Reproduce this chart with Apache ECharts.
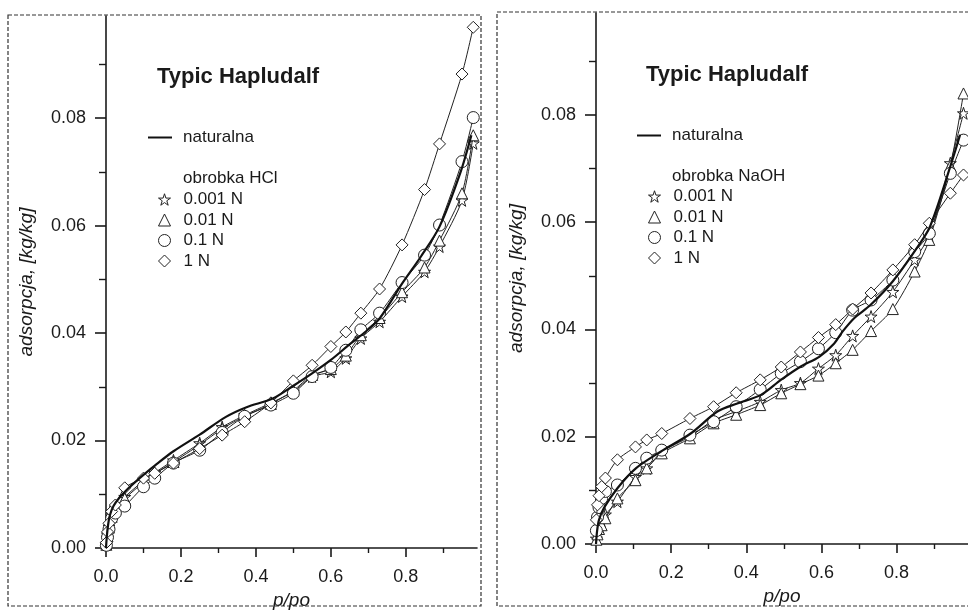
<!DOCTYPE html>
<html>
<head>
<meta charset="utf-8">
<script src="https://cdn.jsdelivr.net/npm/echarts@6.0.0/dist/echarts.min.js"></script>
<style>
  html, body { margin: 0; padding: 0; background: #fff; }
  #chart { width: 968px; height: 610px; }
</style>
</head>
<body>
<div id="chart"></div>
<script>
// ticks
const xTicksMajor = [0, 0.2, 0.4, 0.6, 0.8];
const xTicksMinor = [0.1, 0.3, 0.5, 0.7, 0.9];
const yTicksMajor = [0, 0.02, 0.04, 0.06, 0.08];
const yTicksMinor = [0.01, 0.03, 0.05, 0.07, 0.09];

const legendNames = ['0.001 N', '0.01 N', '0.1 N', '1 N'];

// lewy panel - obrobka HCl
const hclP = [0.001, 0.004, 0.008, 0.015, 0.025, 0.05, 0.1, 0.13, 0.18, 0.25, 0.31, 0.37, 0.44, 0.5, 0.55, 0.6, 0.64, 0.68, 0.73, 0.79, 0.85, 0.89, 0.95, 0.98];
const hcl0001 = [0.0008, 0.0025, 0.004, 0.006, 0.0075, 0.0095, 0.0125, 0.014, 0.0163, 0.0195, 0.0225, 0.0247, 0.027, 0.0291, 0.0319, 0.0328, 0.0353, 0.039, 0.0421, 0.0468, 0.0514, 0.0561, 0.0647, 0.0753];
const hcl001 = [0.0006, 0.0022, 0.0038, 0.0058, 0.0072, 0.0092, 0.0122, 0.0138, 0.016, 0.0192, 0.0222, 0.0245, 0.0268, 0.0293, 0.0322, 0.0333, 0.0358, 0.0396, 0.0428, 0.0476, 0.0522, 0.0572, 0.066, 0.0768];
const hcl01 = [0.0005, 0.002, 0.0035, 0.0055, 0.0065, 0.0078, 0.0114, 0.013, 0.0158, 0.0182, 0.0215, 0.0245, 0.0266, 0.0288, 0.0319, 0.0336, 0.0368, 0.0406, 0.0437, 0.0494, 0.0545, 0.0601, 0.0719, 0.0801];
const hcl1 = [0.001, 0.003, 0.0046, 0.0068, 0.008, 0.0112, 0.013, 0.0139, 0.0158, 0.0185, 0.021, 0.0235, 0.027, 0.0311, 0.034, 0.0375, 0.0402, 0.0437, 0.0482, 0.0564, 0.0667, 0.0752, 0.0882, 0.0969];
const hclNatP = [0, 0.002, 0.005, 0.01, 0.02, 0.035, 0.055, 0.08, 0.1, 0.135, 0.18, 0.25, 0.32, 0.375, 0.445, 0.5, 0.55, 0.6, 0.645, 0.69, 0.73, 0.79, 0.84, 0.89, 0.945, 0.975];
const hclNat = [0, 0.002, 0.004, 0.006, 0.0078, 0.0093, 0.0108, 0.0124, 0.0136, 0.0156, 0.018, 0.0211, 0.0244, 0.0262, 0.0278, 0.0302, 0.0325, 0.035, 0.0376, 0.0401, 0.0427, 0.0492, 0.0542, 0.0598, 0.0697, 0.0768];

// prawy panel - obrobka NaOH
const naohP = [0.001, 0.004, 0.008, 0.015, 0.025, 0.057, 0.105, 0.135, 0.175, 0.25, 0.313, 0.373, 0.437, 0.493, 0.544, 0.592, 0.638, 0.683, 0.732, 0.79, 0.848, 0.887, 0.943, 0.978];
const naoh0001 = [0.001, 0.0022, 0.0032, 0.0042, 0.0055, 0.0079, 0.0125, 0.0141, 0.0172, 0.02, 0.0231, 0.0247, 0.0265, 0.0287, 0.03, 0.0327, 0.0352, 0.0388, 0.0424, 0.047, 0.053, 0.0575, 0.071, 0.0803];
const naoh001 = [0.0008, 0.0018, 0.0028, 0.0035, 0.0048, 0.0085, 0.0119, 0.0141, 0.0169, 0.0197, 0.0225, 0.0241, 0.0259, 0.0281, 0.0298, 0.0314, 0.0337, 0.0362, 0.0397, 0.0438, 0.0508, 0.0567, 0.0705, 0.084];
const naoh01 = [0.0025, 0.005, 0.0068, 0.0085, 0.0098, 0.011, 0.0141, 0.016, 0.0175, 0.0203, 0.0228, 0.0256, 0.0288, 0.0318, 0.034, 0.0364, 0.0394, 0.0436, 0.0455, 0.0492, 0.0545, 0.0579, 0.0691, 0.0753];
const naoh1 = [0.0045, 0.0073, 0.009, 0.0107, 0.0123, 0.0157, 0.0181, 0.0194, 0.0206, 0.0234, 0.0256, 0.0282, 0.0306, 0.033, 0.0358, 0.0385, 0.0409, 0.0438, 0.0468, 0.0511, 0.0558, 0.0598, 0.0654, 0.0688];
const naohNatP = [0, 0.003, 0.008, 0.021, 0.057, 0.106, 0.172, 0.252, 0.323, 0.376, 0.439, 0.492, 0.545, 0.594, 0.634, 0.656, 0.687, 0.731, 0.79, 0.85, 0.889, 0.943, 0.969];
const naohNat = [0, 0.0025, 0.0045, 0.0067, 0.0104, 0.0141, 0.0172, 0.0206, 0.0247, 0.0262, 0.0278, 0.0306, 0.0331, 0.0349, 0.0374, 0.0396, 0.0421, 0.0446, 0.049, 0.0548, 0.0592, 0.0704, 0.0763];

const font = 'Liberation Sans, Arial, sans-serif';
const ink = '#1a1a1a';
const starPath = 'path://M50,2 L61,36 L97,36 L68,57 L79,92 L50,71 L21,92 L32,57 L3,36 L39,36 Z';
const symbols = [starPath, 'triangle', 'circle', 'diamond'];
const symSizes = [12, 11, 12, 12];

function zip(xs, ys) {
  return ys.map((y, i) => [xs[i], y]);
}

let myChart = echarts.init(document.getElementById('chart'));

function makeAxes(gi) {
  let xs = [
    {
      gridIndex: gi, type: 'value', min: 0, max: 0.99, position: 'bottom',
      axisLine: { show: true, onZero: false, lineStyle: { color: ink, width: 1.6 } },
      axisTick: { show: true, customValues: xTicksMajor, length: 9, lineStyle: { color: ink, width: 1.6 } },
      axisLabel: { customValues: xTicksMajor, margin: 20, color: ink, fontSize: 18, fontFamily: font,
        formatter: function (v) { return v.toFixed(1); } },
      splitLine: { show: false },
      name: 'p/po', nameLocation: 'middle', nameGap: 37,
      nameTextStyle: { color: ink, fontSize: 19, fontStyle: 'italic', fontFamily: font }
    },
    {
      gridIndex: gi, type: 'value', min: 0, max: 0.99, position: 'bottom',
      axisLine: { show: false, onZero: false },
      axisTick: { show: true, customValues: xTicksMinor, length: 5, lineStyle: { color: ink, width: 1.4 } },
      axisLabel: { show: false },
      splitLine: { show: false }
    }
  ];
  let ys = [
    {
      gridIndex: gi, type: 'value', min: 0, max: 0.099, position: 'left',
      axisLine: { show: true, onZero: false, lineStyle: { color: ink, width: 1.6 } },
      axisTick: { show: true, customValues: yTicksMajor, length: 11, lineStyle: { color: ink, width: 1.6 } },
      axisLabel: { customValues: yTicksMajor, margin: 20, color: ink, fontSize: 18, fontFamily: font,
        formatter: function (v) { return v.toFixed(2); } },
      splitLine: { show: false },
      name: 'adsorpcja, [kg/kg]', nameLocation: 'middle', nameRotate: 90, nameGap: 70,
      nameTextStyle: { color: ink, fontSize: 19, fontStyle: 'italic', fontFamily: font }
    },
    {
      gridIndex: gi, type: 'value', min: 0, max: 0.099, position: 'left',
      axisLine: { show: false, onZero: false },
      axisTick: { show: true, customValues: yTicksMinor, length: 7, lineStyle: { color: ink, width: 1.4 } },
      axisLabel: { show: false },
      splitLine: { show: false }
    }
  ];
  return { xs, ys };
}

const axL = makeAxes(0);
const axR = makeAxes(1);

function makeSeries(axisIdx, natP, nat, p, sets) {
  let out = [{
    name: 'naturalna', type: 'line', xAxisIndex: axisIdx, yAxisIndex: axisIdx,
    data: zip(natP, nat), symbol: 'none', smooth: 0.3, z: 5,
    lineStyle: { color: '#111', width: 2.2 }, itemStyle: { color: '#111' }
  }];
  sets.forEach((vals, i) => {
    out.push({
      name: legendNames[i], type: 'line', xAxisIndex: axisIdx, yAxisIndex: axisIdx,
      data: zip(p, vals), symbol: symbols[i], symbolSize: symSizes[i], smooth: 0.25,
      showSymbol: true, z: 3 + i * 0.1,
      lineStyle: { color: '#222', width: 1 },
      itemStyle: { color: '#fff', borderColor: '#222', borderWidth: 1 }
    });
  });
  return out;
}

let series = []
  .concat(makeSeries(0, hclNatP, hclNat, hclP, [hcl0001, hcl001, hcl01, hcl1]))
  .concat(makeSeries(2, naohNatP, naohNat, naohP, [naoh0001, naoh001, naoh01, naoh1]));

function lineLegend(left, top) {
  return {
    left: left, top: top, orient: 'vertical', selectedMode: false, padding: 0,
    data: [{ name: 'naturalna', icon: 'rect' }],
    itemWidth: 24, itemHeight: 2,
    itemStyle: { color: '#111', borderWidth: 0 },
    textStyle: { color: ink, fontSize: 17, fontFamily: font, lineHeight: 17, padding: [0, 0, 0, 6] }
  };
}
function symLegend(left, top) {
  return {
    left: left, top: top, orient: 'vertical', selectedMode: false, padding: 0,
    data: legendNames.map((n, i) => ({ name: n, icon: symbols[i] })),
    itemWidth: 12, itemHeight: 12, itemGap: 3.5,
    itemStyle: { color: '#fff', borderColor: '#222', borderWidth: 1 },
    textStyle: { color: ink, fontSize: 17, fontFamily: font, lineHeight: 17, padding: [0, 0, 0, 8] }
  };
}

let option = {
  backgroundColor: '#fff',
  animation: false,
  title: [
    { text: 'Typic Hapludalf', left: 157, top: 66, padding: 0,
      textStyle: { color: ink, fontSize: 22, fontWeight: 'bold', fontFamily: font } },
    { text: 'obrobka HCl', left: 183, top: 170, padding: 0,
      textStyle: { color: ink, fontSize: 17, fontWeight: 'normal', fontFamily: font } },
    { text: 'Typic Hapludalf', left: 646, top: 64, padding: 0,
      textStyle: { color: ink, fontSize: 22, fontWeight: 'bold', fontFamily: font } },
    { text: 'obrobka NaOH', left: 672, top: 168, padding: 0,
      textStyle: { color: ink, fontSize: 17, fontWeight: 'normal', fontFamily: font } }
  ],
  legend: [
    lineLegend(148, 129),
    symLegend(158, 191),
    lineLegend(637, 127),
    symLegend(648, 188)
  ],
  grid: [
    { left: 106, top: 16, width: 371, height: 532, containLabel: false, outerBoundsMode: 'none' },
    { left: 596, top: 13, width: 372, height: 531, containLabel: false, outerBoundsMode: 'none' }
  ],
  xAxis: axL.xs.concat(axR.xs),
  yAxis: axL.ys.concat(axR.ys),
  graphic: [
    { type: 'rect', shape: { x: 8, y: 15, width: 473, height: 591 }, silent: true, z: -1,
      style: { fill: null, stroke: '#333', lineWidth: 1.2, lineDash: [4, 2] } },
    { type: 'rect', shape: { x: 497, y: 12, width: 480, height: 594 }, silent: true, z: -1,
      style: { fill: null, stroke: '#333', lineWidth: 1.2, lineDash: [4, 2] } }
  ],
  series: series
};

myChart.setOption(option);
window.addEventListener('resize', () => {
  myChart.resize();
});
</script>
</body>
</html>
